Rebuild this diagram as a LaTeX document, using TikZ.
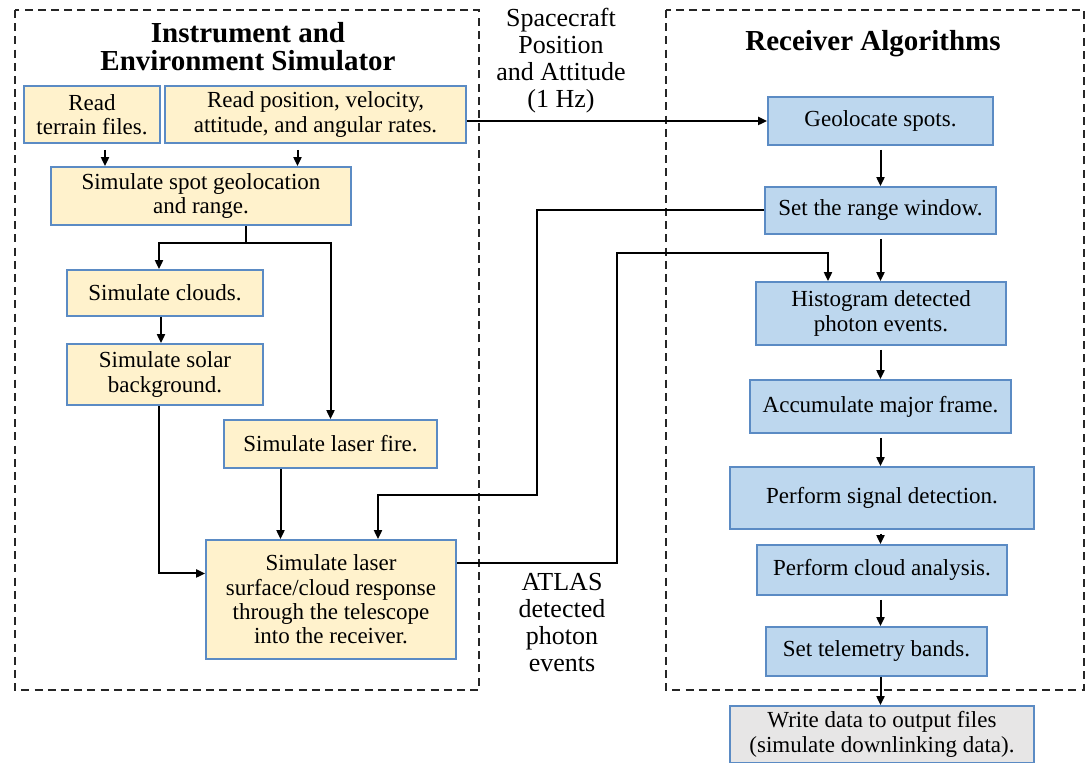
\documentclass[tikz,border=0pt]{standalone}
\usepackage{fontspec}
\setmainfont{Liberation Serif}
\usetikzlibrary{arrows.meta}

\definecolor{simfill}{HTML}{FFF2CC}
\definecolor{recfill}{HTML}{BDD7EE}
\definecolor{outfill}{HTML}{E7E6E6}
\definecolor{boxline}{HTML}{5B8BC4}

\tikzset{
	stepbox/.style={draw=boxline, line width=0.9pt, align=center, inner sep=0pt,
		font=\fontsize{11.5}{12.2}\selectfont},
	simbox/.style={stepbox, fill=simfill},
	recbox/.style={stepbox, fill=recfill},
	outbox/.style={stepbox, fill=outfill},
	title/.style={align=center, font=\fontsize{14.5}{14}\selectfont\bfseries},
	sidelabel/.style={align=center, font=\fontsize{13}{13.5}\selectfont},
	flow/.style={line width=1pt, -{Triangle[length=4.5pt,width=4pt]}},
	frame/.style={line width=0.8pt, dash pattern=on 4pt off 2.6pt, draw=black!85}
}

\begin{document}
\begin{tikzpicture}[x=0.5pt,y=-0.5pt]

	\useasboundingbox (0,0) rectangle (1089,763);

	%Frames
	\draw[frame] (15,10) rectangle (479,690);
	\draw[frame] (666,10) rectangle (1084,690);

	%Titles
	\node[title] (simtitle) at (248,47) {Instrument and\\Environment Simulator};
	\node[title] (rectitle) at (873,44) {Receiver Algorithms};

	%Simulator
	\node[simbox, minimum width=68pt, minimum height=28.5pt] (terrain) at (92,114.5) {Read\\terrain files.};
	\node[simbox, minimum width=150.5pt, minimum height=28.5pt] (readpos) at (315.5,114.5) {Read position, velocity,\\attitude, and angular rates.};
	\node[simbox, minimum width=150pt, minimum height=29pt] (spotgeo) at (201,196) {Simulate spot geolocation\\and range.};
	\node[simbox, minimum width=98pt, minimum height=23pt] (clouds) at (165,293) {Simulate clouds.};
	\node[simbox, minimum width=98pt, minimum height=30.5pt] (solar) at (165,374.5) {Simulate solar\\background.};
	\node[simbox, minimum width=106.5pt, minimum height=24pt] (laserfire) at (330.5,444) {Simulate laser fire.};
	\node[simbox, minimum width=125pt, minimum height=59.5pt] (response) at (331,599.5) {Simulate laser\\surface/cloud response\\through the telescope\\into the receiver.};

	%Receiver
	\node[recbox, minimum width=112.5pt, minimum height=24pt] (geolocate) at (880.5,121) {Geolocate spots.};
	\node[recbox, minimum width=115.5pt, minimum height=23.5pt] (range) at (880.5,210.5) {Set the range window.};
	\node[recbox, minimum width=125pt, minimum height=31.5pt] (histogram) at (881,313.5) {Histogram detected\\photon events.};
	\node[recbox, minimum width=130.5pt, minimum height=26.5pt] (accumulate) at (880.5,406.5) {Accumulate major frame.};
	\node[recbox, minimum width=152pt, minimum height=31pt] (signal) at (882,498) {Perform signal detection.};
	\node[recbox, minimum width=125pt, minimum height=25pt] (cloudan) at (882,570) {Perform cloud analysis.};
	\node[recbox, minimum width=110.5pt, minimum height=24.5pt] (telemetry) at (876.5,651.5) {Set telemetry bands.};
	\node[outbox, minimum width=152pt, minimum height=28.5pt] (output) at (882,734.5) {Write data to output files\\(simulate downlinking data).};

	%Labels
	\node[sidelabel] (sclabel) at (561,60.5) {Spacecraft\\Position\\and Attitude\\(1 Hz)};
	\node[sidelabel] (atlaslabel) at (562,623) {ATLAS\\detected\\photon\\events};

	%Simulator flow
	\draw[flow, shorten <=3pt] ([xshift=6.5pt]terrain.south) -- ([xshift=6.5pt]terrain.south |- spotgeo.north);
	\draw[flow, shorten <=3pt] ([xshift=-9pt]readpos.south) -- ([xshift=-9pt]readpos.south |- spotgeo.north);
	\coordinate (split) at (246,243);
	\draw[line width=1pt] (spotgeo.south -| split) -- (split);
	\draw[flow] (split) -| ([xshift=-3pt]clouds.north);
	\draw[flow] (split) -| (laserfire.north);
	\draw[flow] ([xshift=-2pt]clouds.south) -- ([xshift=-2pt]solar.north);
	\draw[flow] ([xshift=-3pt]solar.south) |- ([yshift=13pt]response.west);
	\draw[flow] ([xshift=-25pt]laserfire.south) -- ([xshift=-25pt]laserfire.south |- response.north);

	%Between the two
	\draw[flow] (readpos.east |- geolocate.west) -- (geolocate.west);
	\draw[flow] (range.west) -| (537,495) -| ([xshift=23.5pt]response.north);
	\draw[flow] ([yshift=18pt]response.east) -| (617,253) -| ([xshift=-26.5pt]histogram.north);

	%Receiver flow
	\foreach \a/\b in {geolocate/range, range/histogram, histogram/accumulate, accumulate/signal, signal/cloudan, cloudan/telemetry}
		\draw[flow, shorten <=2pt] (\a.south -| geolocate) -- (\b.north -| geolocate);
	\draw[flow] (telemetry.south -| geolocate) -- (output.north -| geolocate);

\end{tikzpicture}
\end{document}
